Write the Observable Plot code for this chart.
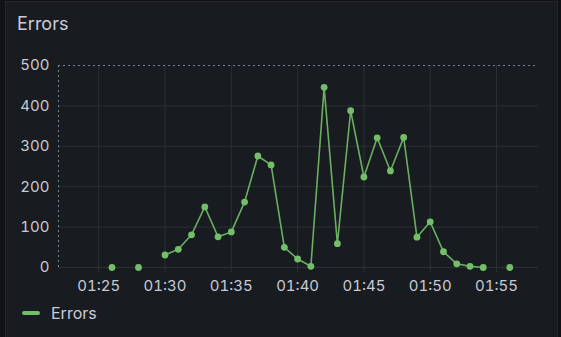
<!DOCTYPE html>
<html>
<head>
<meta charset="utf-8">
<script src="https://cdn.jsdelivr.net/npm/d3@7"></script>
<script src="https://cdn.jsdelivr.net/npm/@observablehq/plot@0.6"></script>
<style>
  html, body { margin: 0; padding: 0; background: #111217; width: 561px; height: 337px; overflow: hidden; font-family: Inter, "Noto Sans", sans-serif; }
  #panel { position: absolute; left: 5px; top: 1px; width: 553px; height: 345px; background: #181b1f; border: 1px solid #24262b; box-sizing: border-box; }
  #title { position: absolute; left: 17px; top: 15px; font-size: 18px; font-weight: 400; color: #ccccdc; line-height: 1; }
  #chart { position: absolute; left: 0; top: 40px; }
  #legend { position: absolute; left: 22px; top: 303px; display: flex; align-items: center; color: #ccccdc; font-size: 16px; }
  #legend .sw { width: 18px; height: 4px; border-radius: 2px; background: #73bf69; margin-right: 11px; }
</style>
</head>
<body>
<div id="panel"></div>
<div id="title">Errors</div>
<div id="chart"></div>
<div id="legend"><span class="sw"></span><span>Errors</span></div>
<script>
const times = ["01:26","01:27","01:28","01:29","01:30","01:31","01:32","01:33","01:34","01:35","01:36","01:37","01:38","01:39","01:40","01:41","01:42","01:43","01:44","01:45","01:46","01:47","01:48","01:49","01:50","01:51","01:52","01:53","01:54","01:55","01:56"];
const errors = [0, null, 0, null, 31, 45, 81, 150, 76, 88, 162, 276, 254, 50, 21, 3, 446, 59, 388, 224, 321, 239, 322, 75, 113, 39, 9, 3, 0, null, 0];
const xTickLabels = ["01:25","01:30","01:35","01:40","01:45","01:50","01:55"];
const yTicks = [0, 100, 200, 300, 400, 500];
const xDomainStr = ["01:21:58", "01:58:10"];

const toDate = s => {
  const p = s.split(":").map(Number);
  return new Date(Date.UTC(2024, 0, 1, p[0], p[1], p[2] || 0));
};
const data = times.map((t, i) => ({ t: toDate(t), v: errors[i] == null ? NaN : errors[i] }));
const xTicks = xTickLabels.map(toDate);
const xDomain = xDomainStr.map(toDate);

const grid = "#2c2f34";
const dash = "#71868a";
const green = "#73bf69";
const text = "#c8cad6";

const chart = Plot.plot({
  width: 561,
  height: 260,
  marginTop: 25,
  marginBottom: 33,
  marginLeft: 58,
  marginRight: 23,
  style: { background: "transparent", fontFamily: "Inter, sans-serif", fontSize: "15px", color: text },
  x: { type: "utc", domain: xDomain },
  y: { domain: [0, 500] },
  marks: [
    Plot.gridX(xTicks, { stroke: grid, strokeOpacity: 1, y1: 0, y2: 500 }),
    Plot.gridY(yTicks.slice(0, -1), { stroke: grid, strokeOpacity: 1 }),
    Plot.axisX(xTicks, { tickSize: 5, tickPadding: 8, stroke: grid, strokeOpacity: 1, tickFormat: d3.utcFormat("%H:%M"), fill: text, fontSize: 15, label: null }),
    Plot.axisY(yTicks, { tickSize: 0, tickPadding: 9, fill: text, fontSize: 15, label: null }),
    Plot.ruleY([500], { stroke: dash, strokeDasharray: "2,3", strokeWidth: 1 }),
    Plot.ruleX([xDomain[0]], { y1: 0, y2: 500, stroke: dash, strokeDasharray: "2,3", strokeWidth: 1 }),
    Plot.line(data, { x: "t", y: "v", stroke: green, strokeWidth: 1.6, strokeOpacity: 0.9 }),
    Plot.dot(data, { x: "t", y: "v", r: 3.4, fill: green, stroke: "none" })
  ]
});
document.getElementById("chart").appendChild(chart);
</script>
</body>
</html>
